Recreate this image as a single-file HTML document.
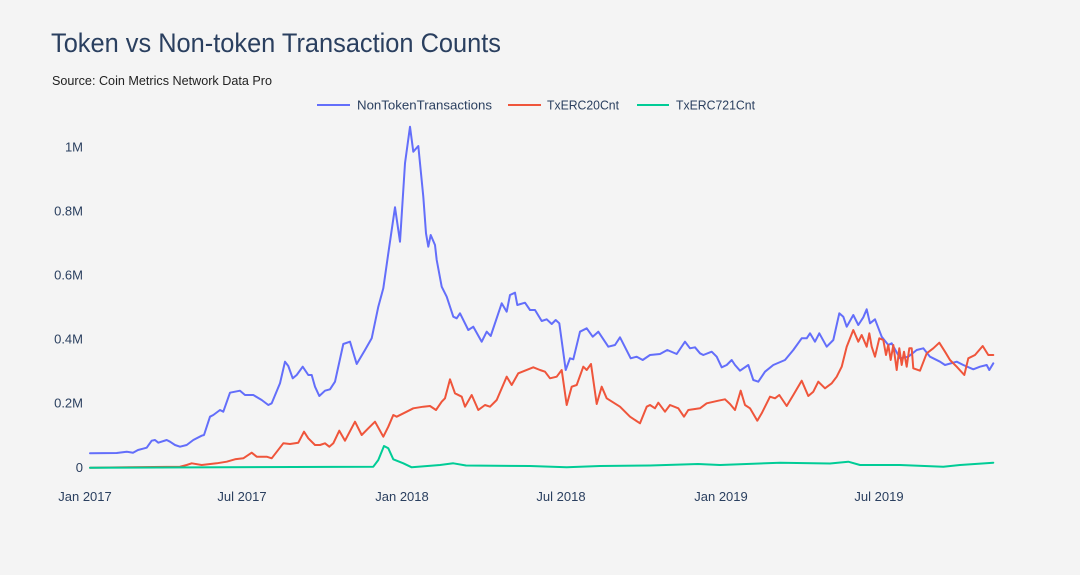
<!DOCTYPE html>
<html>
<head>
<meta charset="utf-8">
<style>
html,body{margin:0;padding:0;background:#f4f4f4;}
svg{display:block;}
text{font-family:"Liberation Sans",sans-serif;}
</style>
</head>
<body>
<svg width="1080" height="575" viewBox="0 0 1080 575" xmlns="http://www.w3.org/2000/svg">
<rect width="1080" height="575" fill="#f4f4f4"/>
<text x="51" y="52" font-size="27" fill="#2a3f5f" textLength="450" lengthAdjust="spacingAndGlyphs">Token vs Non-token Transaction Counts</text>
<text x="52" y="85" font-size="13" fill="#222" textLength="220" lengthAdjust="spacingAndGlyphs">Source: Coin Metrics Network Data Pro</text>

<!-- legend -->
<line x1="317" y1="105" x2="350" y2="105" stroke="#636efa" stroke-width="2"/>
<text x="357" y="109.5" font-size="13" fill="#2a3f5f" textLength="135" lengthAdjust="spacingAndGlyphs">NonTokenTransactions</text>
<line x1="508" y1="105" x2="541" y2="105" stroke="#ef553b" stroke-width="2"/>
<text x="547" y="109.5" font-size="13" fill="#2a3f5f" textLength="72" lengthAdjust="spacingAndGlyphs">TxERC20Cnt</text>
<line x1="637" y1="105" x2="669" y2="105" stroke="#00cc96" stroke-width="2"/>
<text x="676" y="109.5" font-size="13" fill="#2a3f5f" textLength="79" lengthAdjust="spacingAndGlyphs">TxERC721Cnt</text>

<!-- y ticks -->
<g font-size="13" fill="#2a3f5f" text-anchor="end">
<text x="83" y="151.5">1M</text>
<text x="83" y="215.5">0.8M</text>
<text x="83" y="279.5">0.6M</text>
<text x="83" y="343.5">0.4M</text>
<text x="83" y="407.5">0.2M</text>
<text x="83" y="472">0</text>
</g>
<!-- x ticks -->
<g font-size="13" fill="#2a3f5f" text-anchor="middle">
<text x="85" y="501">Jan 2017</text>
<text x="242" y="501">Jul 2017</text>
<text x="402" y="501">Jan 2018</text>
<text x="561" y="501">Jul 2018</text>
<text x="721" y="501">Jan 2019</text>
<text x="879" y="501">Jul 2019</text>
</g>

<g fill="none" stroke-width="2" stroke-linejoin="round" stroke-linecap="round">
<polyline stroke="#636efa" points="90,453.3 116.7,453 126.7,451.7 133,452.7 138,450 143,448.7 146.7,447.7 151.7,440.7 155,440 158.3,442.7 166.7,440 170,441.7 175,445 180,446.7 186.7,445 193.3,440 201.7,435.7 204,435 210,416.7 213.3,415 220,410 223.3,411.7 230,392.7 235,391.7 240,390.7 245,395 253.3,395 261.7,400 268.3,405 271.7,403.3 280,383.3 285,361.7 288.3,366 292.7,378.3 296.7,375 302.7,366.7 308.3,375 311.7,375 315,386.7 319.3,396 325,390.7 330,389.3 335,381.7 343.3,344 350,341.7 356.7,364 365,350 371.7,338.3 378.3,306.7 383.3,288.3 388.3,253.3 395,207.3 400,241.7 405,163.3 410,126.7 413.3,151.7 418.3,146 423.3,196.7 426,233.3 428.3,246.7 430.7,235 435,245 436.7,260 441.7,286.7 446.7,296.7 453.3,316.7 456.7,318.3 460,313.3 468.3,330 473.3,326.7 481.7,341.7 486.7,331.7 490.7,336 501.7,303.3 506.7,311.7 510,295 515,292.7 517.3,305 525,302.7 530,310 535,310 541.7,321 546.7,319.3 551.7,324 555.7,320 559.3,323.3 565.7,370 570,358.3 573.3,359.3 580,331.7 586.7,328.3 592.7,336.7 598.3,331.7 608.3,346.7 615,345 620,337.3 630.7,358.3 636.7,356.7 642.7,360 650,355 660,354 667.3,350 676.7,354 685,341.7 690,348.3 695,347.3 700,353.3 703.3,355 711.7,351.7 716.7,356.7 721.7,367.3 726.7,365 731.7,360 735,365 740,370.7 748.3,365 753.3,380 758.3,381.7 765,371.7 773.3,365 785,360 793.3,350 801.7,338.3 806.7,338.3 810,333.3 815,341.7 819.3,333.3 826.7,346.7 833.3,340 839.3,313.3 843.3,316.7 846.7,326.7 853.3,315 858.3,325 863.3,317.3 866.7,309.3 870,323.3 875,319.3 881.7,336.7 888.3,345 891.7,343.3 900,358.3 908.3,356.7 916.7,350 923.3,348.3 930,356.7 940,361.7 945,365 956.7,361.7 963.3,365 973.3,369.3 980,366.7 986.7,365 989.3,370 993.3,363.3"/>
<polyline stroke="#ef553b" points="90,467.7 180,466.7 186.7,465 191.7,463.3 201.7,465 216.7,463.3 226.7,461.7 235,459.3 243.3,458.3 251.7,452.7 256.7,456.7 266.7,456.7 271.7,458.3 283.3,443.3 290,444 298.3,442.7 304,431.7 308.3,438.3 315,445 320,445 325,443.3 329.3,446.7 333.3,443.3 339.3,430.7 345,440.7 355,421.7 361.7,435 368.3,428.3 375,421.7 383.3,436.7 388.3,426.7 393.3,415 396.7,416.7 406.7,411.7 413.3,408.3 423.3,406.7 430,406 436,410 441.7,401.7 445,398.3 450,379.3 455,393.3 461.7,396.7 465,406.7 471.7,395 478.3,410 485,405 490,406.7 496.7,400 506.7,376.7 511.7,385 518.3,373.3 533.3,367.3 540,370 545,371.7 550,378.3 556.7,376.7 561.7,370 566.7,405 571.7,386.7 576.7,385 583.3,366.7 586.7,370 591,364 596.7,404 601.7,386.7 606.7,398.3 620,406.7 630,416.7 640,423.3 646.7,406.7 650,405 655,408.3 658.3,402.7 665,411.7 670,405 678.3,408.3 684,416.7 688.3,410 700,408.3 706.7,403.3 718.3,400.7 725,399.3 730,404 735,410 740.7,390.7 745,405 750,408.3 757.3,420.7 761.7,413.3 770,396.7 775,398.3 779.3,395 786.7,406 793.3,395 801.7,380.7 808.3,396 813.3,391.7 818.3,381.7 825,388.3 831.7,383.3 836.7,376.7 841.7,366.7 846.7,346.7 853.3,330 858.3,341.7 861.7,335 866.7,346.7 869.3,333.3 871.7,346.7 875,356.7 879.3,338.3 883.3,340 886,355 888.3,345 890.7,360 893.3,345 896.7,370 899.3,348.3 901.7,365 904,351.7 906.7,366.7 909.3,348.3 911.7,348.3 913.3,368.3 920,370.7 926.7,353.3 933.3,348.3 939.3,342.7 945,351.7 950,360 956.7,366.7 964.3,375 968.3,358.3 975,355 982.7,346 988.3,355 993.3,355"/>
<polyline stroke="#00cc96" points="90,467.7 373.3,466.7 378.3,460 384,446 388.3,448.3 393.3,459.3 403.3,463.3 411.7,467.3 440,465 453.3,463.3 466,465.5 530,466 566.7,467.3 600,466 650,465.5 698,464 720,465 780,462.7 830,463.5 848.3,461.7 860,465 900,465 943.3,466.7 960,465 993.3,462.7"/>
</g>
</svg>
</body>
</html>
